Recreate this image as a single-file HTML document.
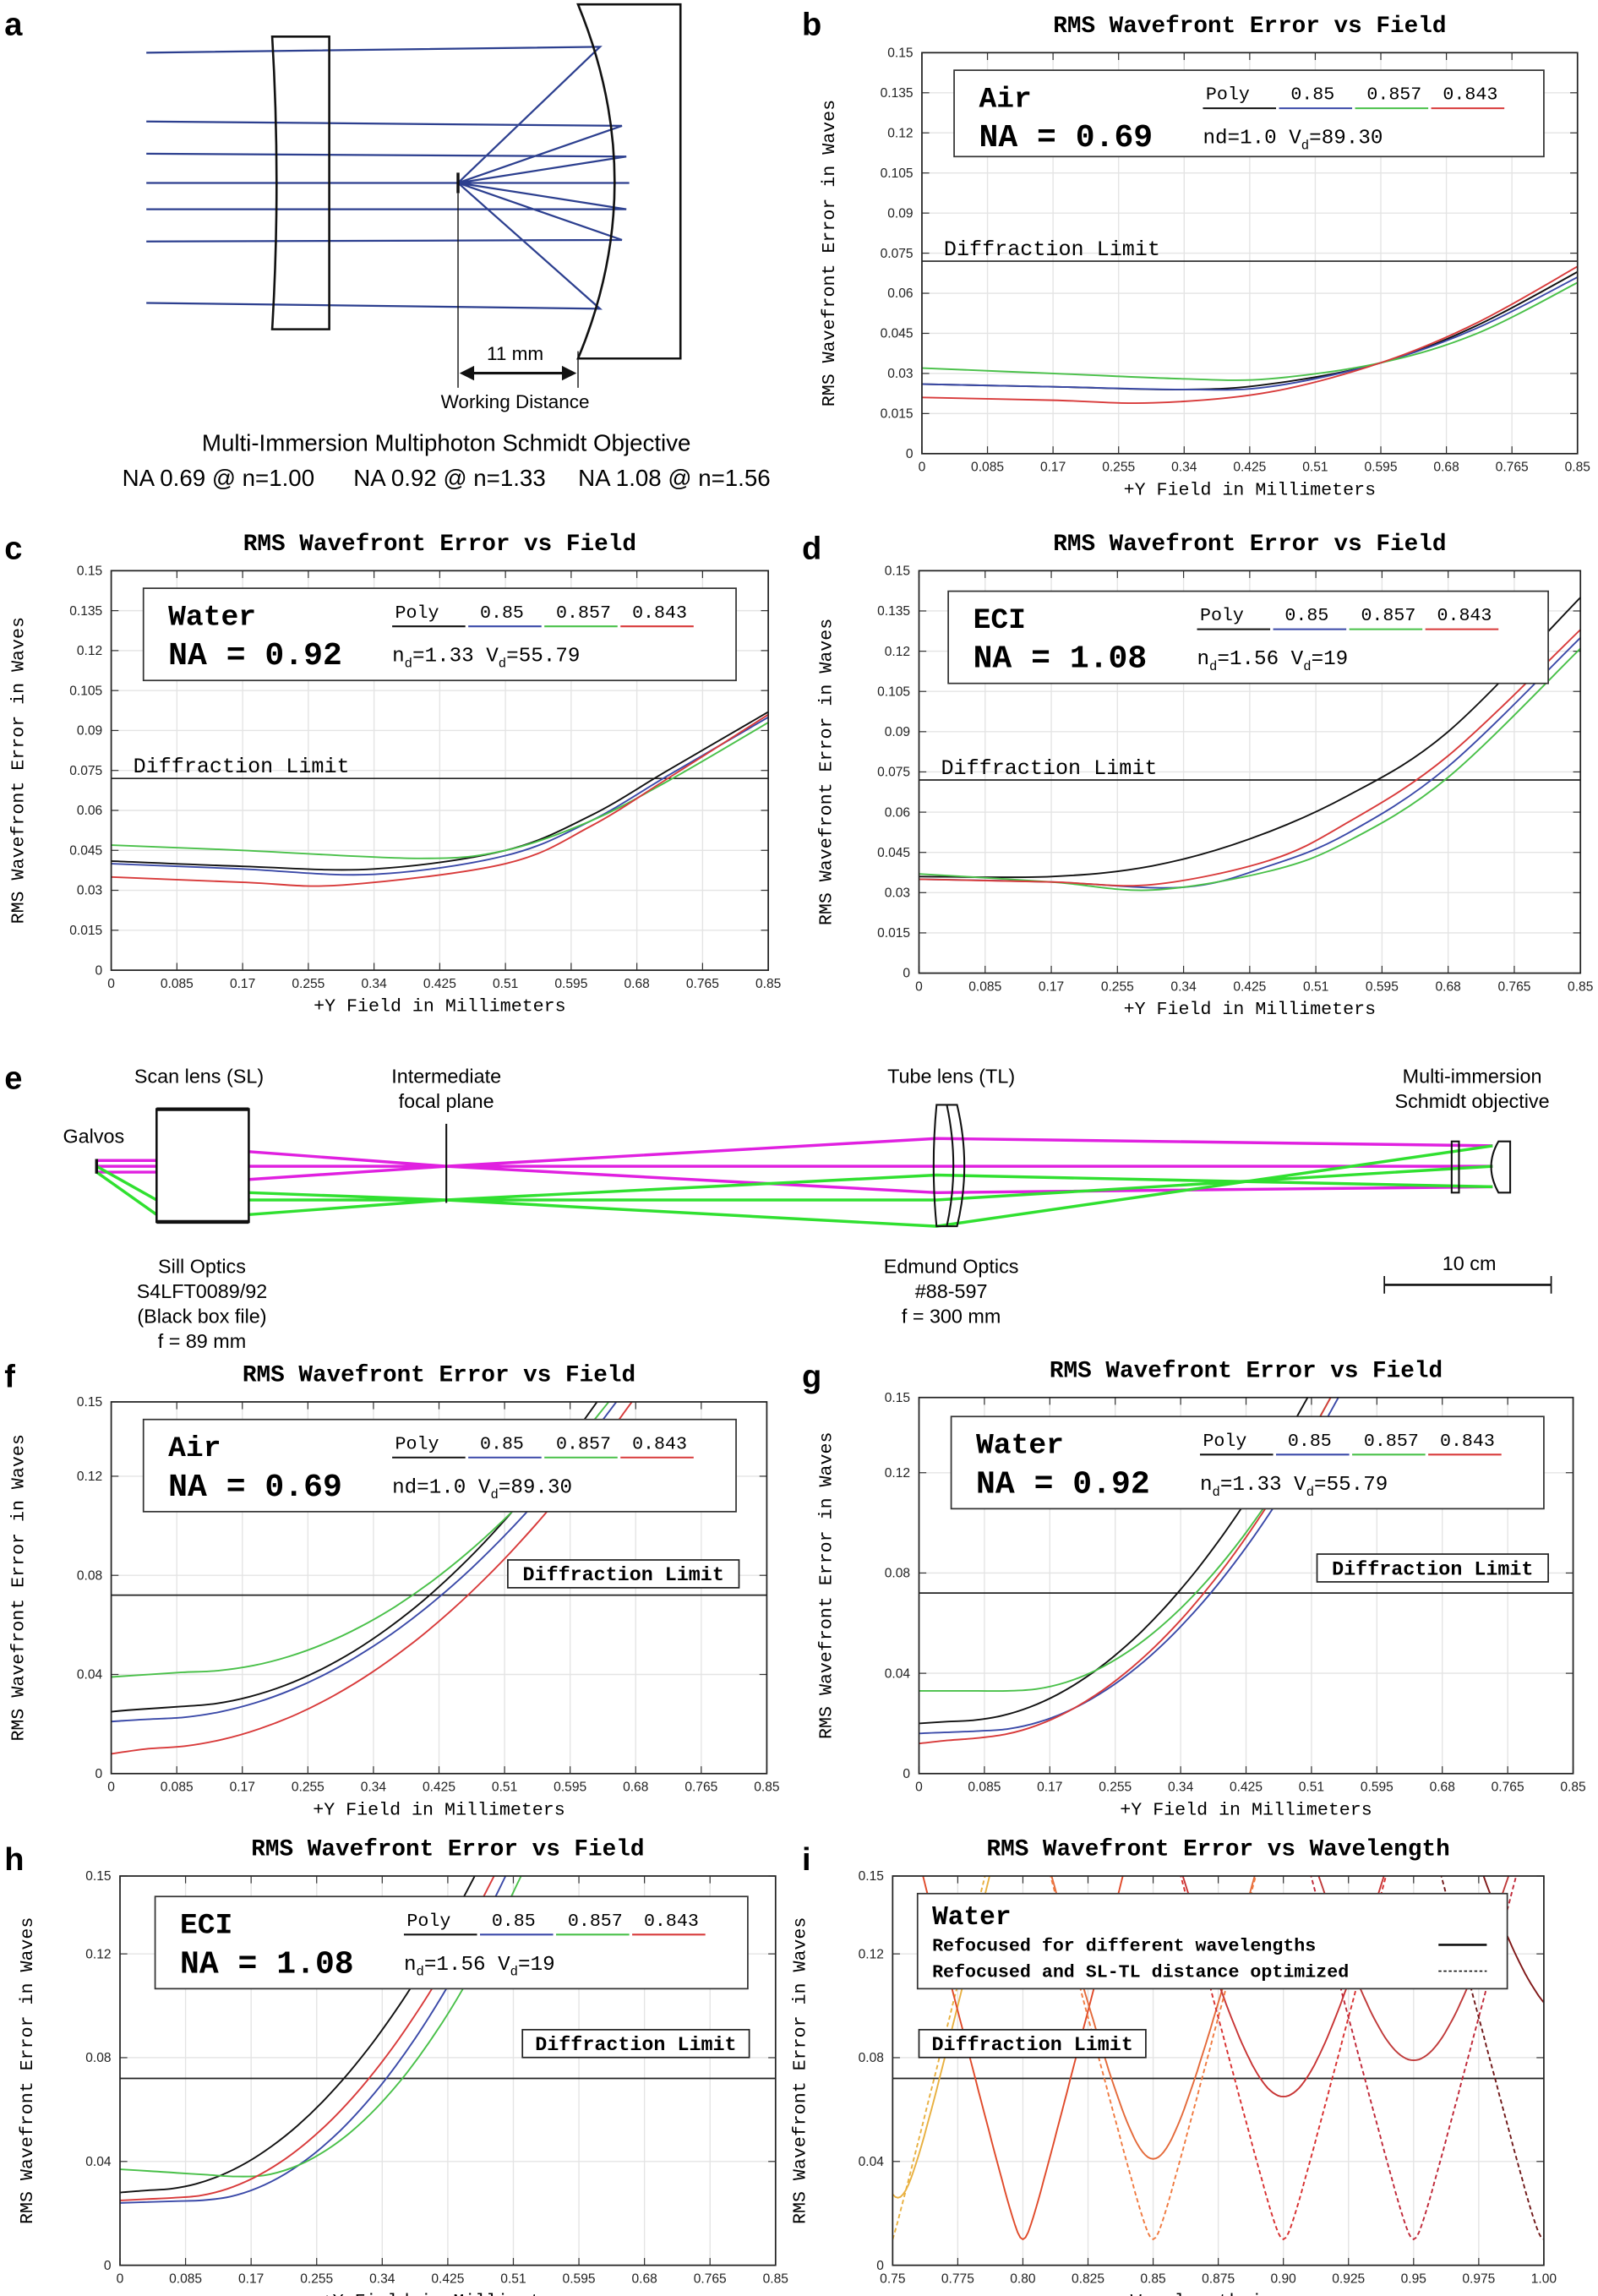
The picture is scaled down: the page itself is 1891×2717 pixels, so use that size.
<!DOCTYPE html>
<html><head><meta charset="utf-8">
<style>
html,body{margin:0;padding:0;background:#fff;}
svg{display:block}
.lab{font:bold 22px "Liberation Sans",sans-serif}
.t{font-family:"Liberation Mono",monospace;font-weight:bold;font-size:16px}
.tk{font:9px "Liberation Sans",sans-serif;fill:#222}
.ax{font-family:"Liberation Mono",monospace;font-size:12.5px}
.sans{font-family:"Liberation Sans",sans-serif;font-size:13.5px}
</style></head>
<body>
<svg id="s" width="1891" height="2717" viewBox="0 0 1092 1569" xmlns="http://www.w3.org/2000/svg">
<rect width="1092" height="1569" fill="#fff"/>
<!-- panel a -->
<text class="lab" x="3" y="24">a</text>
<g stroke="#2c3f8f" stroke-width="1.3" fill="none">
<path d="M100 36 L410 32 L313 125 M100 83 L425 86 L313 125 M100 105 L428 107 L313 125 M100 125 L430 125 M100 143 L428 143 L313 125 M100 165 L425 164 L313 125 M100 207 L410 211 L313 125"/>
</g>
<path d="M186 25 L225 25 L225 225 L186 225 Q192 125 186 25 Z" fill="none" stroke="#111" stroke-width="1.5"/>
<path d="M395 3 L465 3 L465 245 L395 245 Q445 125 395 3 Z" fill="none" stroke="#111" stroke-width="1.5"/>
<line x1="313" y1="118" x2="313" y2="132" stroke="#111" stroke-width="2"/>
<line x1="313" y1="132" x2="313" y2="265" stroke="#111" stroke-width="0.8"/>
<line x1="395" y1="240" x2="395" y2="265" stroke="#111" stroke-width="0.8"/>
<line x1="318" y1="255" x2="390" y2="255" stroke="#111" stroke-width="1.8"/>
<path d="M314 255 L324 250 L324 260Z M394 255 L384 250 L384 260Z" fill="#111"/>
<text class="sans" x="352" y="246" text-anchor="middle" style="font-size:13px">11 mm</text>
<text class="sans" x="352" y="279" text-anchor="middle" style="font-size:13px">Working Distance</text>
<text class="sans" x="305" y="308" text-anchor="middle" style="font-size:16px">Multi-Immersion Multiphoton Schmidt Objective</text>
<text class="sans" x="305" y="332" text-anchor="middle" style="font-size:16px">NA 0.69 @ n=1.00&#160;&#160;&#160;&#160;&#160;&#160;NA 0.92 @ n=1.33&#160;&#160;&#160;&#160;&#160;NA 1.08 @ n=1.56</text>

<!-- panel e -->
<text class="lab" x="3" y="744">e</text>
<g class="sans" text-anchor="middle">
<text x="136" y="740">Scan lens (SL)</text>
<text x="305" y="740">Intermediate</text><text x="305" y="757">focal plane</text>
<text x="650" y="740">Tube lens (TL)</text>
<text x="1006" y="740">Multi-immersion</text><text x="1006" y="757">Schmidt objective</text>
<text x="64" y="781">Galvos</text>
<text x="138" y="870">Sill Optics</text><text x="138" y="887">S4LFT0089/92</text><text x="138" y="904">(Black box file)</text><text x="138" y="921">f = 89 mm</text>
<text x="650" y="870">Edmund Optics</text><text x="650" y="887">#88-597</text><text x="650" y="904">f = 300 mm</text>
<text x="1004" y="868">10 cm</text>
</g>
<line x1="946" y1="878" x2="1060" y2="878" stroke="#111" stroke-width="1.5"/>
<line x1="946" y1="872" x2="946" y2="884" stroke="#111"/><line x1="1060" y1="872" x2="1060" y2="884" stroke="#111"/>
<g stroke="#e020e0" stroke-width="2" fill="none">
<path d="M66 793 L107 793 M66 797 L107 797 M66 801 L107 801"/>
<path d="M170 787 L305 797 L640 815 L1020 811 M170 797 L1020 797 M170 806 L305 797 L640 778 L1020 783"/>
</g>
<g stroke="#30e030" stroke-width="2" fill="none">
<path d="M66 797 L107 820 M66 801 L107 830"/>
<path d="M170 815 L305 820 L640 838 L1020 783 M170 820 L640 820 L1020 797 M170 830 L305 820 L640 803 L1020 811"/>
</g>
<line x1="66" y1="792" x2="66" y2="802" stroke="#111" stroke-width="2"/>
<rect x="107" y="758" width="63" height="77" fill="#fff" stroke="#111" stroke-width="1.5"/>
<line x1="107" y1="758" x2="170" y2="758" stroke="#111" stroke-width="2.5"/>
<line x1="107" y1="835" x2="170" y2="835" stroke="#111" stroke-width="2.5"/>
<line x1="305" y1="768" x2="305" y2="822" stroke="#111" stroke-width="1.2"/>
<path d="M640 755 L654 755 Q664 797 654 838 L640 838 Q636 797 640 755 Z M647 755 Q656 797 647 838" fill="none" stroke="#111" stroke-width="1.2"/>
<rect x="992" y="780" width="5" height="35" fill="none" stroke="#111" stroke-width="1.2"/>
<path d="M1024 780 L1032 780 L1032 815 L1024 815 Q1014 797 1024 780Z" fill="none" stroke="#111" stroke-width="1.2"/>
<g id="plots"></g>
</svg>
<script>
var NS="http://www.w3.org/2000/svg",G=document.getElementById("plots");
function el(t,a,txt){var e=document.createElementNS(NS,t);for(var k in a)e.setAttribute(k,a[k]);if(txt!==undefined)e.textContent=txt;G.appendChild(e);return e;}
function cr(pts){var d="M"+pts[0][0].toFixed(1)+" "+pts[0][1].toFixed(1);for(var i=0;i<pts.length-1;i++){var p0=pts[i-1]||pts[i],p1=pts[i],p2=pts[i+1],p3=pts[i+2]||p2;d+=" C"+(p1[0]+(p2[0]-p0[0])/6).toFixed(1)+" "+(p1[1]+(p2[1]-p0[1])/6).toFixed(1)+" "+(p2[0]-(p3[0]-p1[0])/6).toFixed(1)+" "+(p2[1]-(p3[1]-p1[1])/6).toFixed(1)+" "+p2[0].toFixed(1)+" "+p2[1].toFixed(1);}return d;}
var COL=["#111","#3a49a8","#49c049","#d83a3a"];
function plot(o){
 var X0=o.x0,Y0=o.y0,X1=o.x1,Y1=o.y1,xm=o.xmin||0,xM=o.xmax||0.85,yM=0.15;
 function px(v){return X0+(v-xm)/(xM-xm)*(X1-X0);} function py(v){return Y1-v/yM*(Y1-Y0);}
 el("text",{x:o.lx,y:o.ly,"class":"lab"},o.L);
 el("text",{x:(X0+X1)/2,y:Y0-14,"class":"t","text-anchor":"middle"},o.title);
 el("text",{x:(X0+X1)/2,y:Y1+28,"class":"ax","text-anchor":"middle"},o.xlabel||"+Y Field in Millimeters");
 el("text",{x:0,y:0,"class":"ax","text-anchor":"middle",transform:"translate("+(X0-60)+","+((Y0+Y1)/2)+") rotate(-90)"},"RMS Wavefront Error in Waves");
 o.xt.forEach(function(s){var x=px(parseFloat(s));el("line",{x1:x,y1:Y0,x2:x,y2:Y1,stroke:"#e4e4e4","stroke-width":0.8});el("line",{x1:x,y1:Y0,x2:x,y2:Y0+5,stroke:"#333","stroke-width":0.7});el("line",{x1:x,y1:Y1,x2:x,y2:Y1-5,stroke:"#333","stroke-width":0.7});el("text",{x:x,y:Y1+12,"class":"tk","text-anchor":"middle"},s);});
 o.yt.forEach(function(s){var y=py(parseFloat(s));el("line",{x1:X0,y1:y,x2:X1,y2:y,stroke:"#e4e4e4","stroke-width":0.8});el("line",{x1:X0,y1:y,x2:X0+5,y2:y,stroke:"#333","stroke-width":0.7});el("line",{x1:X1,y1:y,x2:X1-5,y2:y,stroke:"#333","stroke-width":0.7});el("text",{x:X0-6,y:y+3,"class":"tk","text-anchor":"end"},s);});
 var cp=el("clipPath",{id:"c"+o.L});var r=document.createElementNS(NS,"rect");r.setAttribute("x",X0);r.setAttribute("y",Y0);r.setAttribute("width",X1-X0);r.setAttribute("height",Y1-Y0);cp.appendChild(r);
 var dl=py(0.072);
 el("line",{x1:X0,y1:dl,x2:X1,y2:dl,stroke:"#222","stroke-width":1});
 if(o.curves)o.curves.forEach(function(c,i){el("path",{d:cr(c.map(function(p){return [px(p[0]),py(p[1])];})),fill:"none",stroke:COL[i],"stroke-width":1.1,"clip-path":"url(#c"+o.L+")"});});
 if(o.fn)o.fn(px,py);
 el("rect",{x:X0,y:Y0,width:X1-X0,height:Y1-Y0,fill:"none",stroke:"#222","stroke-width":1});
 if(o.dlbox){var b=o.dlbox;el("rect",{x:b[0],y:b[1],width:b[2],height:19,fill:"#fff",stroke:"#222"});el("text",{x:b[0]+b[2]/2,y:b[1]+14,"class":"t","text-anchor":"middle",style:"font-size:13.5px"},"Diffraction Limit");}
 else el("text",{x:X0+15,y:dl-4,"class":"ax",style:"font-size:14.5px"},"Diffraction Limit");
 if(o.leg){var g=o.leg;el("rect",{x:g[0],y:g[1],width:g[2],height:g[3],fill:"#fff",stroke:"#333","stroke-width":1});
  el("text",{x:g[0]+17,y:g[1]+25,"class":"t",style:"font-size:20px"},o.med);
  el("text",{x:g[0]+17,y:g[1]+52,"class":"t",style:"font-size:22px"},o.na);
  var lx=g[0]+170,ly=g[1]+26,w=52;["Poly","0.85","0.857","0.843"].forEach(function(s,i){el("text",{x:lx+i*w+2+(i?6:0),y:ly-6,"class":"ax"},s);el("line",{x1:lx+i*w,y1:ly,x2:lx+(i+1)*w-2,y2:ly,stroke:COL[i],"stroke-width":1.2});});
  var t=el("text",{x:lx,y:g[1]+50,"class":"ax",style:"font-size:14px"},"");t.innerHTML=o.nd;}
}
var XT=["0","0.085","0.17","0.255","0.34","0.425","0.51","0.595","0.68","0.765","0.85"];
var YTa=["0","0.015","0.03","0.045","0.06","0.075","0.09","0.105","0.12","0.135","0.15"];
var YTb=["0","0.04","0.08","0.12","0.15"];
var NDair='nd=1.0 V<tspan font-size="9" dy="4">d</tspan><tspan dy="-4">=89.30</tspan>';
var NDw='n<tspan font-size="9" dy="4">d</tspan><tspan dy="-4">=1.33 V</tspan><tspan font-size="9" dy="4">d</tspan><tspan dy="-4">=55.79</tspan>';
var NDe='n<tspan font-size="9" dy="4">d</tspan><tspan dy="-4">=1.56 V</tspan><tspan font-size="9" dy="4">d</tspan><tspan dy="-4">=19</tspan>';
var T="RMS Wavefront Error vs Field";
plot({L:"b",lx:548,ly:24,x0:630,y0:36,x1:1078,y1:310,title:T,xt:XT,yt:YTa,leg:[652,48,403,59],med:"Air",na:"NA = 0.69",nd:NDair,
curves:[[[0,.026],[.17,.025],[.34,.024],[.45,.026],[.595,.034],[.72,.048],[.85,.068]],
[[0,.026],[.17,.025],[.34,.024],[.45,.025],[.595,.034],[.72,.047],[.85,.066]],
[[0,.032],[.17,.030],[.34,.028],[.45,.028],[.595,.034],[.72,.045],[.85,.064]],
[[0,.021],[.17,.020],[.3,.019],[.45,.023],[.595,.034],[.72,.049],[.85,.070]]]});
plot({L:"c",lx:3,ly:382,x0:76,y0:390,x1:525,y1:663,title:T,xt:XT,yt:YTa,leg:[98,402,405,63],med:"Water",na:"NA = 0.92",nd:NDw,
curves:[[[0,.041],[.17,.039],[.34,.038],[.51,.045],[.62,.058],[.72,.075],[.85,.097]],
[[0,.040],[.17,.038],[.34,.036],[.51,.043],[.62,.056],[.72,.073],[.85,.095]],
[[0,.047],[.17,.045],[.4,.042],[.51,.045],[.62,.056],[.72,.071],[.85,.093]],
[[0,.035],[.17,.033],[.3,.032],[.51,.040],[.62,.054],[.72,.072],[.85,.096]]]});
plot({L:"d",lx:548,ly:382,x0:628,y0:390,x1:1080,y1:665,title:T,xt:XT,yt:YTa,leg:[648,404,410,63],med:"ECI",na:"NA = 1.08",nd:NDe,
curves:[[[0,.036],[.17,.036],[.3,.040],[.425,.050],[.55,.066],[.68,.090],[.85,.140]],
[[0,.035],[.17,.034],[.34,.032],[.45,.040],[.55,.052],[.68,.077],[.85,.125]],
[[0,.037],[.17,.034],[.3,.031],[.45,.038],[.55,.049],[.68,.073],[.85,.121]],
[[0,.035],[.17,.034],[.3,.033],[.45,.042],[.55,.056],[.68,.081],[.85,.128]]]});
function qq(y0,ymid,xm,x1){var a=[];for(var i=0;i<=14;i++){var x=x1*i/14;var v;if(x<xm){v=y0+(ymid-y0)*x/xm;}else{v=ymid+(0.15-ymid)*Math.pow((x-xm)/(x1-xm),2);}a.push([x,v]);}return a;}
plot({L:"f",lx:3,ly:948,x0:76,y0:958,x1:524,y1:1212,title:T,xt:XT,yt:YTb,leg:[98,970,405,63],med:"Air",na:"NA = 0.69",nd:NDair,dlbox:[347,1066,158],
curves:[qq(.025,.027,.08,.63),qq(.021,.022,.05,.655),qq(.039,.041,.1,.645),qq(.008,.010,.04,.675)]});
plot({L:"g",lx:548,ly:948,x0:628,y0:955,x1:1075,y1:1212,title:T,xt:XT,yt:YTb,leg:[650,968,405,63],med:"Water",na:"NA = 0.92",nd:NDw,dlbox:[900,1062,158],
curves:[qq(.020,.021,.05,.505),qq(.016,.017,.08,.545),qq(.033,.033,.12,.535),qq(.012,.014,.06,.535)]});
plot({L:"h",lx:3,ly:1278,x0:82,y0:1282,x1:530,y1:1548,title:T,xt:XT,yt:YTb,leg:[106,1296,405,63],med:"ECI",na:"NA = 1.08",nd:NDe,dlbox:[357,1387,155],
curves:[qq(.028,.029,.04,.46),qq(.024,.025,.1,.50),qq(.037,.034,.16,.52),qq(.025,.026,.07,.485)]});
plot({L:"i",lx:548,ly:1278,x0:610,y0:1282,x1:1055,y1:1548,xmin:.75,xmax:1,title:"RMS Wavefront Error vs Wavelength",xlabel:"Wavelength in \u03bcm",
xt:["0.75","0.775","0.80","0.825","0.85","0.875","0.90","0.925","0.95","0.975","1.00"],yt:YTb,dlbox:[628,1387,155],
fn:function(px,py){
 function V(c,m,k,col,dash){var pts=[];for(var x=.75;x<=1.0001;x+=.001){var v=Math.sqrt(m*m+Math.pow(k*(x-c),2));if(v<0.17)pts.push(px(x).toFixed(1)+","+py(Math.min(v,0.2)).toFixed(1));}
  var a={points:pts.join(" "),fill:"none",stroke:col,"stroke-width":1.1,"clip-path":"url(#ci)"};if(dash)a["stroke-dasharray"]="3,2";el("polyline",a);}
 V(.752,.026,4.2,"#e8b040");V(.748,.006,4.0,"#e8b040",1);
 V(.80,.010,3.9,"#e04a2a");V(.85,.041,3.7,"#e46a3a");V(.90,.065,3.5,"#c83434");V(.95,.079,3.5,"#c03a3a");V(1.01,.095,3.5,"#801818");
 V(.85,.010,3.8,"#f07a40",1);V(.90,.010,3.8,"#d83030",1);V(.95,.010,3.8,"#c02838",1);V(1.00,.010,3.8,"#701818",1);
 el("rect",{x:627,y:1294,width:403,height:65,fill:"#fff",stroke:"#333"});
 el("text",{x:637,y:1315,"class":"t",style:"font-size:18px"},"Water");
 el("text",{x:637,y:1333,"class":"t",style:"font-size:12.5px"},"Refocused for different wavelengths");
 el("text",{x:637,y:1351,"class":"t",style:"font-size:12.5px"},"Refocused and SL-TL distance optimized");
 el("line",{x1:983,y1:1329,x2:1016,y2:1329,stroke:"#111","stroke-width":1.5});
 el("line",{x1:983,y1:1347,x2:1016,y2:1347,stroke:"#111","stroke-width":1,"stroke-dasharray":"2,1.5"});
}});
</script>
</body></html>
